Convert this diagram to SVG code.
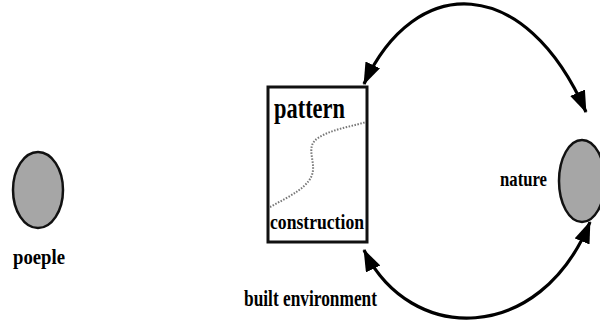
<svg xmlns="http://www.w3.org/2000/svg" width="600" height="327" viewBox="0 0 600 327">
<defs>
<style>
.lbl{font-family:"Liberation Serif","Times New Roman",serif;font-weight:bold;fill:#000}
.node{fill:#a6a6a6;stroke:#111;stroke-width:2.5}
.arc{fill:none;stroke:#000;stroke-width:3.2}
</style>
<marker id="ah" markerUnits="userSpaceOnUse" markerWidth="24" markerHeight="18" refX="21" refY="8" orient="auto-start-reverse">
<path d="M0,0 L22,8 L0,16 z" fill="#000"/>
</marker>
</defs>
<rect width="600" height="327" fill="#fff"/>
<g id="connectors">
<path class="arc" d="M364 84 C415 -27,525 -27,586 112" marker-start="url(#ah)" marker-end="url(#ah)"/>
<path class="arc" d="M364 250 C410 345,540 345,590 222" marker-start="url(#ah)" marker-end="url(#ah)"/>
</g>
<g id="people">
<ellipse class="node" cx="38" cy="190" rx="25" ry="38"/>
<text class="lbl" x="39" y="264" font-size="22" text-anchor="middle" textLength="52" lengthAdjust="spacingAndGlyphs">poeple</text>
</g>
<g id="built-environment">
<rect x="268" y="87" width="99" height="155" fill="#fff" stroke="#111" stroke-width="3"/>
<path d="M270 207 C290 196,312 186,313 170 C314 158,306 146,318 138 C332 129,350 127,366 122" fill="none" stroke="#777" stroke-width="2" stroke-dasharray="1.5,1.5"/>
<text class="lbl" x="274" y="118" font-size="30" textLength="71" lengthAdjust="spacingAndGlyphs">pattern</text>
<text class="lbl" x="270" y="229" font-size="22" textLength="94" lengthAdjust="spacingAndGlyphs">construction</text>
<text class="lbl" x="244" y="306" font-size="24" textLength="133" lengthAdjust="spacingAndGlyphs">built environment</text>
</g>
<g id="nature">
<ellipse class="node" cx="582" cy="181" rx="23" ry="41"/>
<text class="lbl" x="500" y="186" font-size="21" textLength="47" lengthAdjust="spacingAndGlyphs">nature</text>
</g>
</svg>
